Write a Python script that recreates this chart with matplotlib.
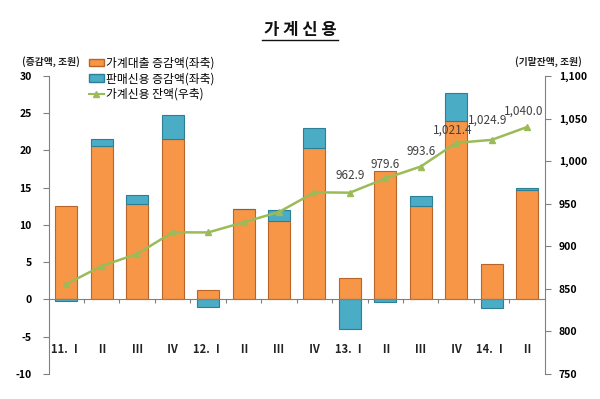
import matplotlib
matplotlib.use("Agg")
import matplotlib.pyplot as plt
from matplotlib.lines import Line2D
from matplotlib.patches import Patch
import numpy as np

plt.rcParams['font.family'] = ['Noto Sans CJK KR', 'DejaVu Sans']
plt.rcParams['axes.unicode_minus'] = False

categories = ["11. Ⅰ", "Ⅱ", "Ⅲ", "Ⅳ", "12. Ⅰ", "Ⅱ", "Ⅲ", "Ⅳ",
              "13. Ⅰ", "Ⅱ", "Ⅲ", "Ⅳ", "14. Ⅰ", "Ⅱ"]
loan_change = [12.5, 20.6, 12.8, 21.6, 1.3, 12.1, 10.5, 20.3,
               2.9, 17.3, 12.6, 24.0, 4.8, 14.7]
sales_credit_change = [-0.2, 1.0, 1.2, 3.2, -1.0, 0.1, 1.5, 2.7,
                       -3.9, -0.4, 1.3, 3.7, -1.2, 0.3]
credit_balance = [855.5, 876.9, 891.0, 916.4, 916.2, 928.1, 940.2, 963.3,
                  962.9, 979.6, 993.6, 1021.4, 1024.9, 1040.0]
balance_labels = ["", "", "", "", "", "", "", "",
                  "962.9", "979.6", "993.6", "1,021.4", "1,024.9", "1,040.0"]

orange = "#F79646"
orange_edge = "#B9652A"
blue = "#4BACC6"
blue_edge = "#2C7F97"
green = "#9BBB59"

fig = plt.figure(figsize=(6, 3.99), dpi=100)
ax = fig.add_axes([0.081, 0.0627, 0.827, 0.747])
ax2 = ax.twinx()

x = np.arange(len(categories))
w = 0.62
loan = np.array(loan_change)
sales = np.array(sales_credit_change)
bottom_sales = np.where(sales >= 0, loan, 0)

ax.bar(x, loan, w, color=orange, edgecolor=orange_edge, linewidth=0.8, zorder=2)
ax.bar(x, sales, w, bottom=bottom_sales, color=blue, edgecolor=blue_edge,
       linewidth=0.8, zorder=2)

ax.set_ylim(-10, 30)
ax.set_yticks(np.arange(-10, 31, 5))
ax.set_xlim(-0.5, len(categories) - 0.5)
ax.set_xticks(np.arange(0.5, len(categories) - 0.5, 1))
ax.set_xticklabels([])
ax.tick_params(axis='x', direction='out', length=3, color='#808080')
ax.spines['bottom'].set_position(('data', 0))
ax.spines['top'].set_visible(False)
ax.spines['right'].set_visible(False)
for s in ['left', 'bottom']:
    ax.spines[s].set_color('#808080')
ax.tick_params(axis='y', direction='out', length=4, color='#808080',
               labelsize=7.5, pad=8)
for lab in ax.get_yticklabels():
    lab.set_fontweight('bold')

for i, c in enumerate(categories):
    ax.text(i, -6.7, c, ha='center', va='center', fontsize=8,
            fontweight='bold', color='#222222')

ax2.plot(x, credit_balance, color=green, linewidth=1.8, marker='^',
         markersize=4.5, markerfacecolor=green, markeredgecolor=green, zorder=3)
ax2.set_ylim(750, 1100)
ax2.set_yticks(np.arange(750, 1101, 50))
ax2.set_yticklabels([f"{v:,}" for v in range(750, 1101, 50)])
for s in ['left', 'bottom', 'top']:
    ax2.spines[s].set_visible(False)
ax2.spines['right'].set_color('#808080')
ax2.tick_params(axis='y', direction='out', length=4, color='#808080',
                labelsize=7.5, pad=6)
for lab in ax2.get_yticklabels():
    lab.set_fontweight('bold')

offsets = {8: (0.0, 12), 9: (0.0, 9), 10: (0.0, 10.5), 11: (-0.1, 7.5),
           12: (-0.1, 15.5), 13: (-0.1, 11)}
for i, lab in enumerate(balance_labels):
    if lab:
        dx, dy = offsets.get(i, (0, 10))
        ax2.text(i + dx, credit_balance[i] + dy, lab, ha='center', va='bottom',
                 fontsize=8.5, color='#404040', zorder=4)

ax.set_zorder(ax2.get_zorder() - 1)
ax.patch.set_visible(False)

handles = [Patch(facecolor=orange, edgecolor=orange_edge),
           Patch(facecolor=blue, edgecolor=blue_edge),
           Line2D([0], [0], color=green, marker='^', markersize=4, linewidth=1.5)]
labels = ["가계대출 증감액(좌축)", "판매신용 증감액(좌축)", "가계신용 잔액(우축)"]
fig.legend(handles, labels, loc='upper left', bbox_to_anchor=(0.14, 0.87),
           frameon=False, fontsize=8.5, handlelength=1.3, handleheight=0.55,
           handletextpad=0.15, labelspacing=0.22, borderaxespad=0)

fig.text(0.037, 0.845, "(증감액, 조원)", fontsize=7, fontweight='bold',
         ha='left', va='center', color='#222222')
fig.text(0.97, 0.845, "(기말잔액, 조원)", fontsize=7, fontweight='bold',
         ha='right', va='center', color='#222222')

fig.text(0.5, 0.925, "가 계 신 용", fontsize=12, fontweight='bold',
         ha='center', va='center', color='#111111')
fig.add_artist(Line2D([0.437, 0.563], [0.901, 0.901], color='#111111',
                      linewidth=1.0, transform=fig.transFigure))

fig.savefig("out.png", dpi=100, facecolor='white')
